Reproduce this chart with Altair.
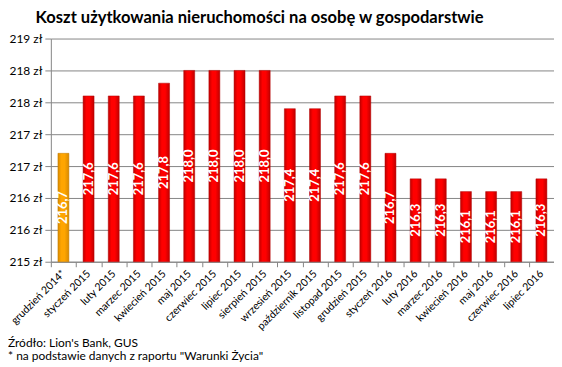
import altair as alt
import pandas as pd

categories = ["grudzień 2014*", "styczeń 2015", "luty 2015", "marzec 2015", "kwiecień 2015",
              "maj 2015", "czerwiec 2015", "lipiec 2015", "sierpień 2015", "wrzesień 2015",
              "październik 2015", "listopad 2015", "grudzień 2015", "styczeń 2016", "luty 2016",
              "marzec 2016", "kwiecień 2016", "maj 2016", "czerwiec 2016", "lipiec 2016"]
values = [216.7, 217.6, 217.6, 217.6, 217.8, 218.0, 218.0, 218.0, 218.0, 217.4,
          217.4, 217.6, 217.6, 216.7, 216.3, 216.3, 216.1, 216.1, 216.1, 216.3]
kinds = ["prior"] + ["monthly"] * 19
y_ticks = [215.0, 215.5, 216.0, 216.5, 217.0, 217.5, 218.0, 218.5]
title_text = "Koszt użytkowania nieruchomości na osobę w gospodarstwie"
note_source = "Źródło: Lion's Bank, GUS"
note_star = "* na podstawie danych z raportu \"Warunki Życia\""

FONT = "Lato"
df = pd.DataFrame({"month": categories, "value": values, "kind": kinds})

def grad(edge, mid):
    return alt.Gradient(
        gradient="linear",
        stops=[alt.GradientStop(color=edge, offset=0), alt.GradientStop(color=mid, offset=0.3),
               alt.GradientStop(color=mid, offset=0.6), alt.GradientStop(color=edge, offset=1)],
        x1=0, x2=1, y1=0, y2=0)

xenc = alt.X("month:N", sort=categories, title=None,
             scale=alt.Scale(paddingInner=0, paddingOuter=0),
             axis=alt.Axis(labelAngle=-45, labelAlign="right", labelBaseline="middle",
                           tickBand="extent", tickSize=5, tickColor="#868686",
                           domainColor="#868686", labelFont=FONT, labelFontSize=10.6,
                           labelColor="black", labelPadding=5))
yscale = alt.Scale(domain=[215, 218.5], zero=False, nice=False)
yaxis = alt.Axis(values=y_ticks, labelExpr="floor(datum.value + 0.5) + ' zł'",
                 grid=True, gridColor="#868686", domainColor="#868686",
                 tickColor="#868686", tickSize=6, labelPadding=3, labelOverlap=False,
                 labelFont=FONT, labelFontSize=12, labelColor="black", title=None)

base = alt.Chart(df).encode(x=xenc)

bars_red = base.transform_filter(alt.datum.kind == "monthly").mark_bar(
    size=11, fill=grad("#c00000", "#ff0000"), stroke="#b00000", strokeWidth=0.5
).encode(
    y=alt.Y("value:Q", scale=yscale, axis=yaxis, title=None),
    y2=alt.datum(215),
)
bars_or = base.transform_filter(alt.datum.kind == "prior").mark_bar(
    size=11, fill=grad("#d98b00", "#ffa500"), stroke="#c07800", strokeWidth=0.5
).encode(y=alt.Y("value:Q", scale=yscale, axis=yaxis, title=None), y2=alt.datum(215))

labels = base.transform_calculate(
    mid="(datum.value + 215) / 2",
    lab="replace(format(datum.value, '.1f'), '.', ',')"
).mark_text(angle=270, color="white", fontWeight="bold", fontSize=13, font=FONT,
            align="center", baseline="middle").encode(
    y=alt.Y("mid:Q", scale=yscale, axis=yaxis, title=None), text="lab:N")

note_df = pd.DataFrame({"t": [note_source]})
note_df2 = pd.DataFrame({"t": [note_star]})
note1 = alt.Chart(note_df).mark_text(align="left", baseline="middle", fontSize=12,
                                     font=FONT, color="black").encode(
    x=alt.value(-43), y=alt.value(306), text="t:N")
note2 = alt.Chart(note_df2).mark_text(align="left", baseline="middle", fontSize=12,
                                      font=FONT, color="black").encode(
    x=alt.value(-43), y=alt.value(319), text="t:N")

chart = alt.layer(bars_red, bars_or, labels, note1, note2).properties(
    width=505, height=224,
    autosize=alt.AutoSizeParams(type="none"),
    padding={"left": 43, "top": 30, "right": 0, "bottom": 104},
    title=alt.TitleParams(title_text, font=FONT, fontSize=16.6, fontWeight="bold",
                          anchor="middle", dx=-43, offset=6, color="black"),
).configure_view(stroke=None)

chart.save("out.html", embed_options={"renderer": "svg", "actions": False})
